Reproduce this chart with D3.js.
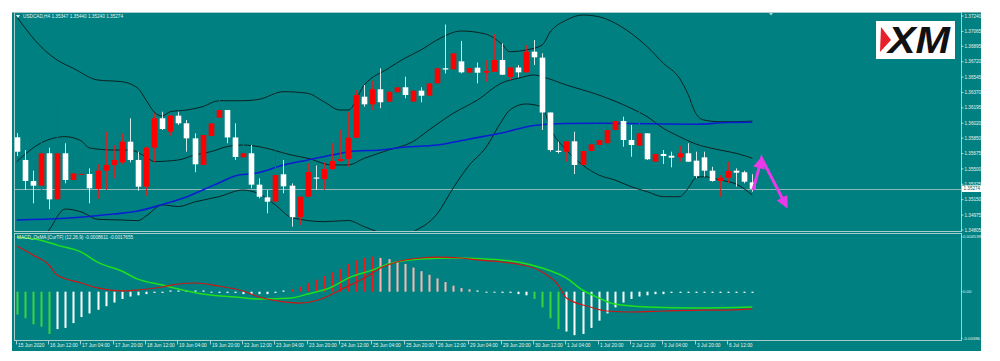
<!DOCTYPE html>
<html>
<head>
<meta charset="utf-8">
<script src="https://cdn.jsdelivr.net/npm/d3@7"></script>
<style>
body { margin: 0; background: #fff; }
svg { display: block; font-family: "Liberation Sans", Arial, sans-serif; }
</style>
</head>
<body>
<svg id="chart" width="1000" height="361"></svg>
<script>
// USDCAD H4, 15 Jun - 6 Jul 2020
const symbolTitle = "USDCAD,H4  1.35347 1.35440 1.35240 1.35274";
const macdTitle = "MACD_OsMA [CurTF] (12,26,9) -0.0008611 -0.0017655";

// one label every 4 bars
const timeLabels = ["15 Jun 2020", "16 Jun 12:00", "17 Jun 04:00", "17 Jun 20:00", "18 Jun 12:00",
	"19 Jun 04:00", "19 Jun 20:00", "22 Jun 12:00", "23 Jun 04:00", "23 Jun 20:00", "24 Jun 12:00",
	"25 Jun 04:00", "25 Jun 20:00", "26 Jun 12:00", "29 Jun 04:00", "29 Jun 20:00", "30 Jun 12:00",
	"1 Jul 04:00", "1 Jul 20:00", "2 Jul 12:00", "3 Jul 04:00", "3 Jul 20:00", "6 Jul 12:00"];

const opens = [1.35860, 1.35602, 1.35363, 1.35309, 1.35678, 1.35154, 1.35678, 1.35374, 1.35437, 1.35442,
	1.35272, 1.35480, 1.35545, 1.35575, 1.35810, 1.35602, 1.35298, 1.35742, 1.36076, 1.35924,
	1.36106, 1.36019, 1.35848, 1.35545, 1.35875, 1.36083, 1.36170, 1.35858, 1.35632, 1.35678,
	1.35321, 1.35177, 1.35127, 1.35439, 1.35309, 1.34950, 1.35184, 1.35402, 1.35385, 1.35499,
	1.35590, 1.35613, 1.35855, 1.36322, 1.36235, 1.36406, 1.36265, 1.36372, 1.36429, 1.36265,
	1.36390, 1.36333, 1.36474, 1.36645, 1.36633, 1.36724, 1.36595, 1.36652, 1.36595, 1.36606,
	1.36739, 1.36546, 1.36654, 1.36599, 1.36834, 1.36766, 1.36142, 1.35706, 1.35696, 1.35814,
	1.35545, 1.35704, 1.35772, 1.35792, 1.35943, 1.36045, 1.35829, 1.35764, 1.35905, 1.35582,
	1.35670, 1.35650, 1.35632, 1.35678, 1.35594, 1.35632, 1.35480, 1.35363, 1.35400, 1.35480,
	1.35462, 1.35347];
const highs = [1.35909, 1.35715, 1.35480, 1.35969, 1.35742, 1.36216, 1.35792, 1.35678, 1.35696, 1.35507,
	1.35553, 1.35924, 1.35772, 1.35905, 1.36076, 1.35696, 1.35753, 1.36133, 1.36151, 1.36114,
	1.36151, 1.36057, 1.35905, 1.36140, 1.36151, 1.36292, 1.36170, 1.36019, 1.35894, 1.35772,
	1.35393, 1.35260, 1.35696, 1.35602, 1.35336, 1.35184, 1.35564, 1.35539, 1.35575, 1.35792,
	1.35943, 1.36151, 1.36398, 1.36455, 1.36504, 1.36645, 1.36538, 1.36682, 1.36549, 1.36492,
	1.36429, 1.36606, 1.36682, 1.37143, 1.36872, 1.36956, 1.36720, 1.36711, 1.36736, 1.37032,
	1.36929, 1.36654, 1.36682, 1.36910, 1.36967, 1.36816, 1.36142, 1.35810, 1.35814, 1.35924,
	1.35924, 1.35867, 1.36000, 1.36000, 1.36057, 1.36094, 1.36000, 1.36219, 1.35905, 1.35670,
	1.35715, 1.35696, 1.35761, 1.35792, 1.35696, 1.35696, 1.35525, 1.35431, 1.35582, 1.35507,
	1.35480, 1.35440];
const lows = [1.35647, 1.35260, 1.35109, 1.35184, 1.35041, 1.35109, 1.35336, 1.35336, 1.35336, 1.35109,
	1.35158, 1.35260, 1.35393, 1.35553, 1.35575, 1.35252, 1.35195, 1.35575, 1.35943, 1.35878,
	1.36000, 1.35696, 1.35462, 1.35545, 1.35867, 1.36083, 1.35792, 1.35602, 1.35602, 1.35280,
	1.35166, 1.34995, 1.35127, 1.35223, 1.34843, 1.34862, 1.35184, 1.35260, 1.35260, 1.35488,
	1.35582, 1.35525, 1.35855, 1.36208, 1.36170, 1.36190, 1.36066, 1.36196, 1.36304, 1.36265,
	1.36258, 1.36333, 1.36352, 1.36586, 1.36500, 1.36588, 1.36466, 1.36474, 1.36492, 1.36606,
	1.36569, 1.36512, 1.36542, 1.36599, 1.36682, 1.35943, 1.35696, 1.35676, 1.35582, 1.35442,
	1.35545, 1.35488, 1.35735, 1.35792, 1.35894, 1.35753, 1.35639, 1.35602, 1.35602, 1.35582,
	1.35556, 1.35518, 1.35582, 1.35582, 1.35393, 1.35412, 1.35355, 1.35184, 1.35336, 1.35298,
	1.35336, 1.35240];
const closes = [1.35696, 1.35363, 1.35309, 1.35678, 1.35154, 1.35678, 1.35374, 1.35450, 1.35444, 1.35280,
	1.35480, 1.35545, 1.35602, 1.35810, 1.35602, 1.35298, 1.35742, 1.36076, 1.35954, 1.36106,
	1.36019, 1.35848, 1.35553, 1.35886, 1.36019, 1.36170, 1.35858, 1.35636, 1.35678, 1.35321,
	1.35184, 1.35127, 1.35431, 1.35302, 1.34950, 1.35184, 1.35465, 1.35389, 1.35499, 1.35590,
	1.35613, 1.35855, 1.36341, 1.36235, 1.36407, 1.36259, 1.36379, 1.36429, 1.36341, 1.36390,
	1.36333, 1.36474, 1.36645, 1.36631, 1.36816, 1.36599, 1.36648, 1.36595, 1.36614, 1.36739,
	1.36572, 1.36654, 1.36599, 1.36834, 1.36770, 1.36142, 1.35715, 1.35693, 1.35814, 1.35545,
	1.35704, 1.35780, 1.35829, 1.35943, 1.36045, 1.35829, 1.35772, 1.35905, 1.35610, 1.35670,
	1.35647, 1.35628, 1.35678, 1.35582, 1.35420, 1.35480, 1.35363, 1.35400, 1.35476, 1.35457,
	1.35355, 1.35274];

// Bollinger bands and moving average, [bar, price]
const upperBand = [[0, 1.37232], [3, 1.36891], [5, 1.36739], [7, 1.36645], [10, 1.36512], [13, 1.36492],
	[15, 1.36417], [16, 1.36284], [17, 1.36148], [18, 1.36102], [19, 1.36151], [21, 1.36170], [23, 1.36208],
	[25, 1.36276], [28, 1.36276], [30, 1.36292], [33, 1.36379], [36, 1.36360], [38, 1.36265], [40, 1.36170],
	[41, 1.36170], [43, 1.36455], [46, 1.36645], [48, 1.36759], [50, 1.36853], [52, 1.36967], [55, 1.37069],
	[58, 1.37035], [60, 1.36921], [61, 1.36834], [63, 1.36853], [65, 1.36910], [66, 1.37058], [68, 1.37194],
	[70, 1.37251], [72, 1.37232], [74, 1.37160], [76, 1.37043], [78, 1.36891], [80, 1.36702], [82, 1.36531],
	[83, 1.36360], [84, 1.36133], [85, 1.36057], [87, 1.36037], [89, 1.36037], [91, 1.36045]];
const middleBand = [[0, 1.35582], [3, 1.35795], [6, 1.35867], [8, 1.35818], [9, 1.35738], [12, 1.35715],
	[14, 1.35715], [16, 1.35636], [17, 1.35584], [20, 1.35602], [22, 1.35658], [24, 1.35696], [26, 1.35753],
	[28, 1.35772], [30, 1.35753], [34, 1.35658], [36, 1.35621], [39, 1.35545], [41, 1.35545], [43, 1.35621],
	[46, 1.35715], [49, 1.35810], [51, 1.35943], [54, 1.36133], [57, 1.36284], [60, 1.36478], [62, 1.36531],
	[64, 1.36569], [65, 1.36549], [68, 1.36455], [72, 1.36341], [76, 1.36190], [78, 1.36094], [80, 1.35962],
	[82, 1.35867], [84, 1.35784], [87, 1.35715], [89, 1.35678], [91, 1.35621]];
const lowerBand = [[2, 1.34578], [4, 1.34805], [6, 1.35044], [8, 1.35010], [10, 1.34927], [13, 1.34919],
	[15, 1.34911], [16, 1.34964], [18, 1.35090], [20, 1.35072], [22, 1.35124], [25, 1.35184], [28, 1.35260],
	[30, 1.35215], [32, 1.35090], [34, 1.34947], [38, 1.34900], [41, 1.34913], [43, 1.34843], [45, 1.34771],
	[47, 1.34691], [49, 1.34782], [52, 1.34987], [54, 1.35283], [56, 1.35545], [58, 1.35738], [60, 1.36045],
	[61, 1.36170], [63, 1.36239], [65, 1.36205], [66, 1.35966], [68, 1.35715], [70, 1.35545], [72, 1.35431],
	[74, 1.35374], [76, 1.35298], [78, 1.35241], [80, 1.35184], [82, 1.35184], [83, 1.35272], [84, 1.35397],
	[85, 1.35412], [87, 1.35374], [89, 1.35328], [91, 1.35203]];
const maLine = [[0, 1.34919], [6, 1.34938], [12, 1.34987], [15, 1.35021], [18, 1.35095], [21, 1.35181],
	[23, 1.35260], [25, 1.35340], [27, 1.35420], [30, 1.35459], [33, 1.35545], [36, 1.35602], [39, 1.35658],
	[42, 1.35704], [45, 1.35715], [48, 1.35749], [52, 1.35772], [56, 1.35841], [60, 1.35909], [64, 1.35994],
	[68, 1.36017], [72, 1.36019], [76, 1.36017], [80, 1.36011], [84, 1.36008], [88, 1.36028], [91, 1.36031]];

const priceTicks = [1.37240, 1.37065, 1.36895, 1.36720, 1.36545, 1.36370, 1.36195, 1.36020,
	1.35850, 1.35675, 1.35500, 1.35325, 1.35150, 1.34975, 1.34805];
const lastPrice = 1.35274;

// MACD_OsMA sub window
const osma = [-0.0019, -0.0022, -0.0027, -0.0029, -0.0035, -0.0031, -0.0030, -0.0026, -0.0021, -0.0018,
	-0.0015, -0.0012, -0.0009, -0.0006, -0.0004, -0.0003, -0.0002, -0.0001, -0.0001, 0.0001,
	0.0001, 0.0001, 0.0001, 0.0001, 0.0000, -0.0001, -0.0001, -0.0001, -0.0002, -0.0002,
	-0.0002, -0.0002, -0.0001, 0.0001, 0.0002, 0.0004, 0.0007, 0.0010, 0.0013, 0.0016,
	0.0019, 0.0023, 0.0026, 0.0028, 0.0029, 0.0028, 0.0027, 0.0025, 0.0023, 0.0020,
	0.0017, 0.0014, 0.0011, 0.0008, 0.0005, 0.0003, 0.0002, 0.0001, 0.0000, 0.0000,
	-0.0001, -0.0001, -0.0002, -0.0003, -0.0006, -0.0013, -0.0022, -0.0031, -0.0033, -0.0036,
	-0.0035, -0.0030, -0.0024, -0.0018, -0.0013, -0.0009, -0.0006, -0.0004, -0.0003, -0.0002,
	-0.0002, -0.0001, -0.0001, -0.0001, -0.0001, -0.0001, -0.0001, -0.0001, -0.0001, -0.0001,
	-0.0001, -0.0001];
// g = green, w = white, r = red, p = pink
const osmaColors = "gggggwwwwwwwwwwwwwwwwwwwwwwwwwwwwwrrrrrrrrrrrppppppppppppwwwwwwwggggwwwwwwwwwwwwwwwwwwwwwwwww";
const macdMain = [[0, 0.003785], [2, 0.00304], [4, 0.00221], [5, 0.00138], [8, 0.00072], [10, 0.00031],
	[13, 0.00006], [15, 0.00014], [18, 0.00039], [20, 0.00064], [22, 0.00072], [25, 0.00047], [28, 0.00006],
	[30, -0.00044], [33, -0.00085], [35, -0.00094], [38, -0.00052], [40, 0.00014], [43, 0.00113],
	[45, 0.00196], [47, 0.00246], [50, 0.00279], [52, 0.00287], [55, 0.00279], [57, 0.00263], [60, 0.00246],
	[62, 0.00229], [65, 0.00163], [67, 0.00055], [68, -0.00052], [71, -0.00127], [73, -0.0016],
	[76, -0.00168], [80, -0.0016], [85, -0.00152], [88, -0.00152], [91, -0.00143]];
const macdSignal = [[0, 0.00452], [3, 0.00427], [5, 0.00386], [8, 0.00328], [10, 0.00245], [13, 0.00171],
	[15, 0.00104], [18, 0.00055], [20, 0.00022], [23, -0.00019], [27, -0.00044], [30, -0.00061],
	[34, -0.00052], [36, -0.00019], [39, 0.00039], [41, 0.00113], [44, 0.00179], [46, 0.00229],
	[50, 0.00271], [54, 0.00279], [58, 0.00271], [62, 0.00246], [65, 0.00196], [68, 0.00113],
	[70, 0.00014], [72, -0.00052], [74, -0.00102], [78, -0.00127], [84, -0.00135], [91, -0.00127]];
const macdTicks = [0.004539, 0, -0.00386];
const macdTickLabels = ["0.004539", "0.00", "-0.00386"];

// hand drawn forecast arrow, [bar, price]
const forecastArrow = [[91.1, 1.35261], [92.15, 1.35621], [95.25, 1.35070]];

const svg = d3.select("#chart");
const teal = "#008080";
const frameCol = "#a8cccc";
const textCol = "#e6f2f2";
const axisFont = 4.6;

const x = d3.scaleLinear().domain([0, 91]).range([16.7, 752.3]);
const y = d3.scaleLinear().domain([1.34805, 1.37240]).range([230, 16]);
const ym = d3.scaleLinear().domain([-0.00386, 0.004539]).range([338.3, 236.9]);

// background and windows
svg.append("rect").attr("x", 12).attr("y", 12).attr("width", 969).attr("height", 339).attr("fill", teal);
svg.append("rect").attr("x", 12).attr("y", 12).attr("width", 969).attr("height", 1).attr("fill", "#7fb0b0");

const defs = svg.append("defs");
defs.append("clipPath").attr("id", "clipMain")
	.append("rect").attr("x", 15).attr("y", 13).attr("width", 946).attr("height", 218);
defs.append("clipPath").attr("id", "clipMacd")
	.append("rect").attr("x", 15).attr("y", 234).attr("width", 946).attr("height", 106);

svg.append("rect").attr("x", 14.5).attr("y", 12.5).attr("width", 947).attr("height", 219)
	.attr("fill", "none").attr("stroke", frameCol);
svg.append("rect").attr("x", 14.5).attr("y", 233.5).attr("width", 947).attr("height", 107)
	.attr("fill", "none").attr("stroke", frameCol);

const main = svg.append("g").attr("clip-path", "url(#clipMain)");

// current price line
main.append("line")
	.attr("x1", 15).attr("x2", 961)
	.attr("y1", Math.round(y(lastPrice)) + 0.5).attr("y2", Math.round(y(lastPrice)) + 0.5)
	.attr("stroke", "#8db6b6").attr("stroke-width", 1);

// indicator lines
const priceLine = d3.line().x(d => x(d[0])).y(d => y(d[1])).curve(d3.curveMonotoneX);
[upperBand, middleBand, lowerBand].forEach(band => {
	main.append("path").attr("d", priceLine(band))
		.attr("fill", "none").attr("stroke", "#0d2222").attr("stroke-width", 1);
});
main.append("path").attr("d", priceLine(maLine))
	.attr("fill", "none").attr("stroke", "#0a1fd0").attr("stroke-width", 1.6);

// candles
const bars = d3.range(opens.length).map(i => ({
	i: i, o: opens[i], h: highs[i], l: lows[i], c: closes[i], up: closes[i] >= opens[i]
}));
const candle = main.selectAll("g.candle").data(bars).enter().append("g").classed("candle", true);
candle.append("line")
	.attr("x1", d => Math.round(x(d.i)) + 0.5).attr("x2", d => Math.round(x(d.i)) + 0.5)
	.attr("y1", d => y(d.h)).attr("y2", d => y(d.l))
	.attr("stroke", d => d.up ? "#c02a2a" : "#d8e8e8").attr("stroke-width", 1);
candle.append("rect")
	.attr("x", d => Math.round(x(d.i)) - 2.3)
	.attr("width", 5.6)
	.attr("y", d => y(Math.max(d.o, d.c)))
	.attr("height", d => Math.max(1, Math.abs(y(d.o) - y(d.c))))
	.attr("fill", d => d.up ? "#ff0000" : "#ffffff");

// forecast arrow
function arrowHead(g, from, to, len, half) {
	const dx = to[0] - from[0], dy = to[1] - from[1];
	const n = Math.hypot(dx, dy), ux = dx / n, uy = dy / n;
	const bx = to[0] - ux * len, by = to[1] - uy * len;
	g.append("polygon")
		.attr("points", [[to[0] + ux * 2, to[1] + uy * 2], [bx - uy * half, by + ux * half], [bx + uy * half, by - ux * half]]
			.map(p => p.join(",")).join(" "))
		.attr("fill", "#e83ae8");
}
const arrowPts = forecastArrow.map(d => [x(d[0]), y(d[1])]);
const arrow = svg.append("g");
arrow.append("path").attr("d", d3.line()(arrowPts))
	.attr("fill", "none").attr("stroke", "#e83ae8").attr("stroke-width", 3).attr("stroke-linejoin", "miter");
arrowHead(arrow, arrowPts[0], arrowPts[1], 10, 6);
arrowHead(arrow, arrowPts[1], arrowPts[2], 10, 6);

// price axis
const pAxis = svg.append("g");
priceTicks.forEach(t => {
	pAxis.append("line").attr("x1", 961).attr("x2", 963.5).attr("y1", y(t)).attr("y2", y(t))
		.attr("stroke", textCol).attr("stroke-width", 0.7);
	pAxis.append("text").attr("x", 964.5).attr("y", y(t)).attr("dy", "0.35em")
		.attr("font-size", axisFont).attr("fill", textCol).text(t.toFixed(5));
});
pAxis.append("rect").attr("x", 962).attr("y", y(lastPrice) - 3.2).attr("width", 19).attr("height", 6.4)
	.attr("fill", "#ffffff");
pAxis.append("text").attr("x", 963.5).attr("y", y(lastPrice)).attr("dy", "0.35em")
	.attr("font-size", axisFont).attr("fill", "#005a5a").text(lastPrice.toFixed(5));

// titles
svg.append("path").attr("d", "M16,15 L20,15 L18,18 Z").attr("fill", textCol);
svg.append("text").attr("x", 23).attr("y", 18.3).attr("font-size", 4.7).attr("fill", textCol).text(symbolTitle);
svg.append("path").attr("d", "M769,13 L773,13 L771,15.5 Z").attr("fill", "#b8d4d4");

// MACD window
const sub = svg.append("g").attr("clip-path", "url(#clipMacd)");
const colorOf = { g: "#3dd23d", w: "#ffffff", r: "#e81c1c", p: "#ffb4b4" };
sub.selectAll("rect.osma").data(osma).enter().append("rect")
	.classed("osma", true)
	.attr("x", (d, i) => Math.round(x(i)) - 0.5)
	.attr("width", 2)
	.attr("y", d => Math.min(ym(0), ym(d)))
	.attr("height", d => Math.max(1, Math.abs(ym(d) - ym(0))))
	.attr("fill", (d, i) => colorOf[osmaColors[i]]);
const macdLine = d3.line().x(d => x(d[0])).y(d => ym(d[1])).curve(d3.curveMonotoneX);
sub.append("path").attr("d", macdLine(macdSignal))
	.attr("fill", "none").attr("stroke", "#1fe01f").attr("stroke-width", 1.5);
sub.append("path").attr("d", macdLine(macdMain))
	.attr("fill", "none").attr("stroke", "#d01414").attr("stroke-width", 1.2);
svg.append("text").attr("x", 17).attr("y", 239.3).attr("font-size", 4.7).attr("fill", textCol).text(macdTitle);

const mAxis = svg.append("g");
macdTicks.forEach((t, k) => {
	mAxis.append("line").attr("x1", 961).attr("x2", 962.5).attr("y1", ym(t)).attr("y2", ym(t))
		.attr("stroke", textCol).attr("stroke-width", 0.7);
	mAxis.append("text").attr("x", 963).attr("y", ym(t)).attr("dy", "0.35em")
		.attr("font-size", 4.3).attr("fill", textCol).text(macdTickLabels[k]);
});

// time axis
const tAxis = svg.append("g");
timeLabels.forEach((lab, k) => {
	const tx = Math.round(x(k * 4)) - 1 + 0.5;
	tAxis.append("line").attr("x1", tx).attr("x2", tx).attr("y1", 341).attr("y2", 344.5)
		.attr("stroke", textCol).attr("stroke-width", 0.7);
	tAxis.append("text").attr("x", tx + 1.5).attr("y", 347.3)
		.attr("font-size", 4.8).attr("fill", textCol).text(lab);
});

// XM logo
const logo = svg.append("g");
logo.append("rect").attr("x", 876).attr("y", 21).attr("width", 79).attr("height", 38).attr("fill", "#ffffff");
logo.append("polygon").attr("points", "881,27 891,40 880,52").attr("fill", "#e8202a");
logo.append("text").attr("x", 888).attr("y", 53)
	.attr("font-size", 37).attr("font-weight", 900).attr("font-style", "italic")
	.attr("textLength", 62).attr("lengthAdjust", "spacingAndGlyphs")
	.attr("fill", "#111").text("XM");
</script>
</body>
</html>
